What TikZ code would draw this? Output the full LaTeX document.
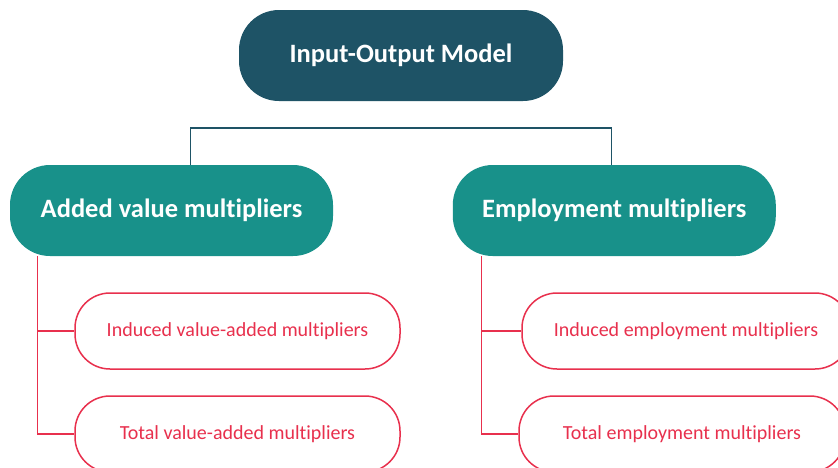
\documentclass[tikz,border=0pt]{standalone}
\usepackage{fontspec}
\setmainfont{Carlito}[Ligatures={NoCommon}]
\definecolor{navyteal}{HTML}{1E5366}
\definecolor{seateal}{HTML}{18918A}
\definecolor{rosered}{HTML}{E8304D}
\begin{document}
\begin{tikzpicture}[x=1pt,y=-1pt,
  topbox/.style={rectangle, rounded corners=40pt, fill=navyteal, text=white,
    font=\fontsize{26.5}{30}\selectfont\bfseries, minimum width=324pt, minimum height=91pt, inner sep=0pt},
  groupbox/.style={rectangle, rounded corners=40pt, fill=seateal, text=white,
    font=\fontsize{26.5}{30}\selectfont\bfseries, minimum width=323pt, minimum height=91pt, inner sep=0pt},
  leafbox/.style={rectangle, rounded corners=35pt, draw=rosered, line width=1.5pt, fill=white, text=rosered,
    font=\fontsize{20}{24}\selectfont, minimum height=76pt, inner sep=0pt},
  bracket/.style={draw=navyteal, line width=1.5pt},
  twig/.style={draw=rosered, line width=1.5pt}]
\useasboundingbox (0,0) rectangle (838,467);
\fill[white] (0,0) rectangle (838,467);

% model and the two groups of multipliers
\node[topbox] (model) at (401,55.5) {Input-Output Model};
\node[groupbox] (added) at (171.5,210.5) {Added value multipliers};
\node[groupbox] (employ) at (614.3,210.5) {Employment multipliers};

% bracket above the two groups
\coordinate (bl) at (190.7,128);
\coordinate (br) at (611.7,128);
\draw[bracket] (added.north -| bl) -- (bl) -- (br) -- (employ.north -| br);

% trunks of the two trees
\coordinate (ltrunk) at (37.3,256);
\coordinate (rtrunk) at (481.7,256);

% leaves
\node[leafbox, minimum width=325pt] (ind1) at (237.5,331) {Induced value-added multipliers};
\node[leafbox, minimum width=325pt] (tot1) at (237.5,434) {Total value-added multipliers};
\node[leafbox, minimum width=328pt] (ind2) at (686,331) {Induced employment multipliers};
\node[leafbox, minimum width=326pt] (tot2) at (682,434) {Total employment multipliers};

\draw[twig] (ltrunk) |- (tot1.west);
\draw[twig] (ltrunk) |- (ind1.west);
\draw[twig] (rtrunk) |- (tot2.west);
\draw[twig] (rtrunk) |- (ind2.west);
\end{tikzpicture}
\end{document}
